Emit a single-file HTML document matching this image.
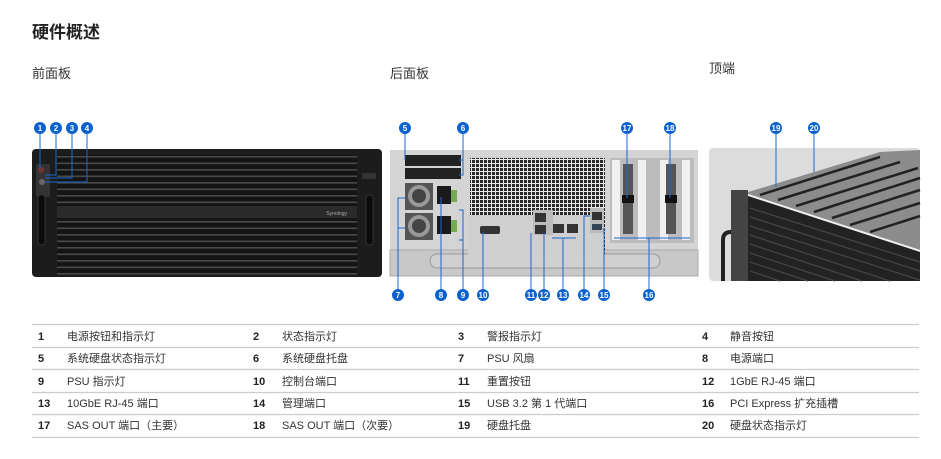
<!DOCTYPE html>
<html><head><meta charset="utf-8"><style>
body{margin:0;background:#fff;width:941px;height:459px;overflow:hidden;font-family:"Liberation Sans","Noto Sans CJK SC",sans-serif}
svg{display:block}
text{font-family:"Liberation Sans","Noto Sans CJK SC",sans-serif}
.n{font-size:11px;fill:#222;font-weight:bold}
.t{font-size:11px;fill:#333}
.c{fill:#0a62d0}
.cl{font-size:8px;fill:#fff;font-weight:bold;text-anchor:middle}
.l{stroke:#1a66d0;stroke-width:1;fill:none}
</style></head><body>
<svg width="941" height="459" viewBox="0 0 941 459">
<defs>
<pattern id="grid" width="4" height="4" patternUnits="userSpaceOnUse"><rect width="4" height="4" fill="#e8e8e8"/><rect width="3" height="3" fill="#2a2a2a"/></pattern>
<pattern id="slat" width="10" height="6.5" patternUnits="userSpaceOnUse"><rect width="10" height="6.5" fill="#141414"/><rect y="0" width="10" height="1.6" fill="#4a4a4a"/></pattern>
</defs>
<text x="32" y="38" style="font-size:17px;font-weight:bold;fill:#222">硬件概述</text>
<text x="32" y="78" style="font-size:13px;fill:#333">前面板</text>
<text x="390" y="78" style="font-size:13px;fill:#333">后面板</text>
<text x="709" y="73" style="font-size:13px;fill:#333">顶端</text>

<!-- front -->
<rect x="32" y="149" width="350" height="128" rx="4" fill="#1c1c1c"/>
<rect x="57" y="155" width="300" height="120" fill="url(#slat)"/>
<rect x="57" y="206" width="300" height="12" fill="#2a2a2a"/>
<text x="347" y="215" style="font-size:5px;fill:#aaa;text-anchor:end">Synology</text>
<rect x="36" y="164" width="14" height="33" rx="2" fill="#333"/>
<circle cx="41" cy="170" r="3" fill="#733"/><circle cx="42" cy="182" r="3" fill="#666"/>
<rect x="38" y="195" width="7" height="50" rx="3" fill="#0a0a0a" stroke="#333"/>
<rect x="366" y="195" width="7" height="50" rx="3" fill="#0a0a0a" stroke="#333"/>
<rect x="362" y="173" width="14" height="6" rx="1" fill="#333"/>
<!-- rear -->
<rect x="390" y="150" width="308" height="100" fill="#d4d4d4"/>
<rect x="390" y="250" width="308" height="26" fill="#c8c8c8" stroke="#aaa"/>
<rect x="430" y="254" width="230" height="14" rx="7" fill="#d0d0d0" stroke="#999"/>
<rect x="470" y="158" width="135" height="96" fill="url(#grid)"/>
<rect x="468" y="215" width="135" height="40" fill="#cfcfcf"/>
<rect x="480" y="226" width="20" height="8" rx="2" fill="#333"/>
<rect x="533" y="210" width="20" height="25" fill="#bbb"/>
<rect x="535" y="213" width="11" height="9" fill="#333"/><rect x="535" y="225" width="11" height="9" fill="#333"/>
<rect x="553" y="224" width="11" height="9" fill="#333"/><rect x="567" y="224" width="11" height="9" fill="#333"/>
<rect x="590" y="208" width="14" height="25" fill="#bbb"/>
<rect x="592" y="212" width="10" height="8" fill="#333"/><rect x="592" y="224" width="10" height="6" fill="#345"/>
<rect x="610" y="158" width="84" height="85" fill="#bcbcbc"/>
<g fill="#f0f0f0"><rect x="612" y="160" width="8" height="80"/><rect x="638" y="160" width="8" height="80"/><rect x="660" y="160" width="8" height="80"/><rect x="682" y="160" width="8" height="80"/></g>
<rect x="623" y="164" width="10" height="70" fill="#555"/><rect x="666" y="164" width="10" height="70" fill="#555"/>
<rect x="622" y="195" width="12" height="8" fill="#111"/><rect x="665" y="195" width="12" height="8" fill="#111"/>
<rect x="405" y="155" width="56" height="11" fill="#222"/><rect x="405" y="168" width="56" height="11" fill="#222"/>
<rect x="405" y="183" width="28" height="27" fill="#555"/><circle cx="419" cy="196" r="11" fill="#999"/><circle cx="419" cy="196" r="7" fill="#444"/>
<rect x="405" y="213" width="28" height="27" fill="#555"/><circle cx="419" cy="226" r="11" fill="#999"/><circle cx="419" cy="226" r="7" fill="#444"/>
<rect x="437" y="186" width="14" height="18" fill="#1a1a1a"/><rect x="437" y="216" width="14" height="18" fill="#1a1a1a"/>
<rect x="451" y="190" width="6" height="12" fill="#7a5"/><rect x="451" y="220" width="6" height="12" fill="#7a5"/>
<!-- top -->
<rect x="709" y="148" width="211" height="133" rx="4" fill="#dcdcdc"/>
<polygon points="745,193 880,152 920,150 920,250" fill="#8c8c8c"/>
<g stroke="#222" stroke-width="2.5"><line x1="760" y1="195" x2="880" y2="157"/><line x1="778" y1="200" x2="900" y2="162"/><line x1="796" y1="206" x2="918" y2="168"/><line x1="814" y1="212" x2="920" y2="178"/><line x1="832" y1="218" x2="920" y2="190"/><line x1="850" y1="225" x2="920" y2="203"/><line x1="870" y1="232" x2="920" y2="216"/></g>
<line x1="745" y1="194" x2="920" y2="251" stroke="#eee" stroke-width="2"/>
<polygon points="745,195 920,252 920,281 745,281" fill="#222"/>
<g stroke="#454545" stroke-width="1.2"><line x1="750" y1="208" x2="920" y2="262"/><line x1="750" y1="217" x2="920" y2="271"/><line x1="750" y1="226" x2="920" y2="280"/><line x1="750" y1="235" x2="890" y2="281"/><line x1="750" y1="244" x2="862" y2="281"/><line x1="750" y1="253" x2="835" y2="281"/><line x1="750" y1="262" x2="808" y2="281"/><line x1="750" y1="271" x2="780" y2="281"/></g>
<rect x="731" y="190" width="17" height="91" fill="#444"/>
<path d="M723 281 V240 q0-8 8-8" stroke="#222" stroke-width="4" fill="none"/>

<!-- leaders -->
<g class="l">
<path d="M40 134V168"/><path d="M56 134V175H45"/><path d="M72 134V178H45"/><path d="M87 134V182H45"/>
<path d="M405 134V160"/><path d="M463 134V175H459M463 160H459"/>
<path d="M627 134V198"/><path d="M670 134V198"/>
<path d="M776 134V187"/><path d="M814 134V172"/>
<path d="M398 289V198H405M398 228H405"/><path d="M441 289V197"/><path d="M463 289V210H459M463 240H459"/>
<path d="M483 289V232"/><path d="M531 289V233"/><path d="M544 289V233"/><path d="M563 289V238M552 238H576"/>
<path d="M584 289V216H590"/><path d="M604 289V228"/><path d="M649 289V238M614 238H690"/>
</g>
<g>
<circle class="c" cx="40" cy="128" r="6"/><text class="cl" x="40" y="131">1</text>
<circle class="c" cx="56" cy="128" r="6"/><text class="cl" x="56" y="131">2</text>
<circle class="c" cx="72" cy="128" r="6"/><text class="cl" x="72" y="131">3</text>
<circle class="c" cx="87" cy="128" r="6"/><text class="cl" x="87" y="131">4</text>
<circle class="c" cx="405" cy="128" r="6"/><text class="cl" x="405" y="131">5</text>
<circle class="c" cx="463" cy="128" r="6"/><text class="cl" x="463" y="131">6</text>
<circle class="c" cx="627" cy="128" r="6"/><text class="cl" x="627" y="131">17</text>
<circle class="c" cx="670" cy="128" r="6"/><text class="cl" x="670" y="131">18</text>
<circle class="c" cx="776" cy="128" r="6"/><text class="cl" x="776" y="131">19</text>
<circle class="c" cx="814" cy="128" r="6"/><text class="cl" x="814" y="131">20</text>
<circle class="c" cx="398" cy="295" r="6"/><text class="cl" x="398" y="298">7</text>
<circle class="c" cx="441" cy="295" r="6"/><text class="cl" x="441" y="298">8</text>
<circle class="c" cx="463" cy="295" r="6"/><text class="cl" x="463" y="298">9</text>
<circle class="c" cx="483" cy="295" r="6"/><text class="cl" x="483" y="298">10</text>
<circle class="c" cx="531" cy="295" r="6"/><text class="cl" x="531" y="298">11</text>
<circle class="c" cx="544" cy="295" r="6"/><text class="cl" x="544" y="298">12</text>
<circle class="c" cx="563" cy="295" r="6"/><text class="cl" x="563" y="298">13</text>
<circle class="c" cx="584" cy="295" r="6"/><text class="cl" x="584" y="298">14</text>
<circle class="c" cx="604" cy="295" r="6"/><text class="cl" x="604" y="298">15</text>
<circle class="c" cx="649" cy="295" r="6"/><text class="cl" x="649" y="298">16</text>
</g>

<!-- table -->
<g stroke="#ccc" stroke-width="1.2">
<line x1="32" y1="324.5" x2="919" y2="324.5"/><line x1="32" y1="347.5" x2="919" y2="347.5"/><line x1="32" y1="369.5" x2="919" y2="369.5"/><line x1="32" y1="392.5" x2="919" y2="392.5"/><line x1="32" y1="414.5" x2="919" y2="414.5"/><line x1="32" y1="437.5" x2="919" y2="437.5"/>
</g>
<g>
<text class="n" x="38" y="340">1</text><text class="t" x="67" y="340">电源按钮和指示灯</text>
<text class="n" x="253" y="340">2</text><text class="t" x="282" y="340">状态指示灯</text>
<text class="n" x="458" y="340">3</text><text class="t" x="487" y="340">警报指示灯</text>
<text class="n" x="702" y="340">4</text><text class="t" x="730" y="340">静音按钮</text>
<text class="n" x="38" y="362">5</text><text class="t" x="67" y="362">系统硬盘状态指示灯</text>
<text class="n" x="253" y="362">6</text><text class="t" x="282" y="362">系统硬盘托盘</text>
<text class="n" x="458" y="362">7</text><text class="t" x="487" y="362">PSU 风扇</text>
<text class="n" x="702" y="362">8</text><text class="t" x="730" y="362">电源端口</text>
<text class="n" x="38" y="385">9</text><text class="t" x="67" y="385">PSU 指示灯</text>
<text class="n" x="253" y="385">10</text><text class="t" x="282" y="385">控制台端口</text>
<text class="n" x="458" y="385">11</text><text class="t" x="487" y="385">重置按钮</text>
<text class="n" x="702" y="385">12</text><text class="t" x="730" y="385">1GbE RJ-45 端口</text>
<text class="n" x="38" y="407">13</text><text class="t" x="67" y="407">10GbE RJ-45 端口</text>
<text class="n" x="253" y="407">14</text><text class="t" x="282" y="407">管理端口</text>
<text class="n" x="458" y="407">15</text><text class="t" x="487" y="407">USB 3.2 第 1 代端口</text>
<text class="n" x="702" y="407">16</text><text class="t" x="730" y="407">PCI Express 扩充插槽</text>
<text class="n" x="38" y="429">17</text><text class="t" x="67" y="429">SAS OUT 端口（主要）</text>
<text class="n" x="253" y="429">18</text><text class="t" x="282" y="429">SAS OUT 端口（次要）</text>
<text class="n" x="458" y="429">19</text><text class="t" x="487" y="429">硬盘托盘</text>
<text class="n" x="702" y="429">20</text><text class="t" x="730" y="429">硬盘状态指示灯</text>
</g>
</svg>
</body></html>
